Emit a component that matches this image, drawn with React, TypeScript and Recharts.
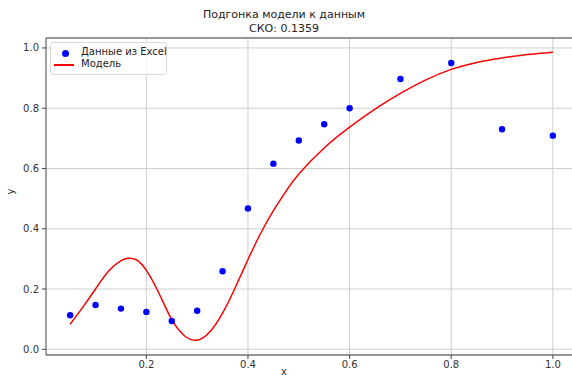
import React from "react";
import {
  ComposedChart,
  Line,
  Scatter,
  XAxis,
  YAxis,
  CartesianGrid,
  ReferenceLine,
} from "recharts";

// data points
const dataX: number[] = [0.05, 0.1, 0.15, 0.2, 0.25, 0.3, 0.35, 0.4, 0.45, 0.5, 0.55, 0.6, 0.7, 0.8, 0.9, 1.0];
const dataY: number[] = [0.113, 0.147, 0.135, 0.124, 0.094, 0.128, 0.259, 0.467, 0.616, 0.693, 0.747, 0.8, 0.897, 0.95, 0.73, 0.709];

// fitted model curve
const modelX: number[] = [
  0.05, 0.075, 0.1, 0.125, 0.15, 0.165, 0.18, 0.2, 0.225, 0.25, 0.275, 0.3, 0.325, 0.35, 0.375,
  0.4, 0.425, 0.45, 0.475, 0.5, 0.55, 0.6, 0.65, 0.7, 0.75, 0.8, 0.85, 0.9, 0.95, 1.0,
];
const modelY: number[] = [
  0.083, 0.14, 0.2, 0.258, 0.294, 0.302, 0.297, 0.262, 0.185, 0.098, 0.045, 0.03, 0.058, 0.12, 0.205,
  0.298, 0.385, 0.46, 0.525, 0.582, 0.668, 0.737, 0.797, 0.849, 0.894, 0.929, 0.952, 0.967, 0.978, 0.986,
];

const xTicks: number[] = [0.2, 0.4, 0.6, 0.8, 1.0];
const yTicks: number[] = [0.0, 0.2, 0.4, 0.6, 0.8, 1.0];

const points = dataX.map((x, i) => ({ x, y: dataY[i] }));
const model = modelX.map((x, i) => ({ x, y: modelY[i] }));

const FONT = "'DejaVu Sans', sans-serif";
const Y_MAX = 1.033;

const App: React.FC = () => {
  return (
    <div
      style={{
        position: "fixed",
        left: 0,
        top: 0,
        width: 572,
        height: 380,
        overflow: "hidden",
        background: "#fff",
        fontFamily: FONT,
      }}
    >
      <div
        style={{
          position: "absolute",
          left: 184,
          width: 200,
          top: 8,
          textAlign: "center",
          fontSize: 11,
          lineHeight: "14px",
          color: "#222",
        }}
      >
        Подгонка модели к данным
        <br />
        СКО: 0.1359
      </div>

      <ComposedChart
        width={600}
        height={380}
        margin={{ top: 38, right: 23, left: 0, bottom: 0 }}
        style={{ position: "absolute", left: 0, top: 0 }}
      >
        <CartesianGrid stroke="#cfcfcf" strokeWidth={1} vertical={false} />
        {xTicks.map((t) => (
          <ReferenceLine key={t} x={t} stroke="#cfcfcf" strokeWidth={1} />
        ))}
        <XAxis
          type="number"
          dataKey="x"
          domain={[0.0025, 1.0475]}
          ticks={xTicks}
          tickFormatter={(v: number) => v.toFixed(1)}
          height={25}
          tickSize={4}
          tickMargin={2}
          stroke="#444"
          tick={{ fill: "#333", fontSize: 10, fontFamily: FONT }}
          allowDataOverflow
        />
        <YAxis
          type="number"
          dataKey="y"
          domain={[-0.019, Y_MAX]}
          ticks={yTicks}
          tickFormatter={(v: number) => v.toFixed(1)}
          width={46}
          tickSize={4}
          tickMargin={3}
          stroke="#444"
          tick={{ fill: "#333", fontSize: 10, fontFamily: FONT }}
          allowDataOverflow
        />
        <ReferenceLine y={Y_MAX} stroke="#444" strokeWidth={1} />
        <Line
          data={model}
          dataKey="y"
          type="natural"
          stroke="#ff0000"
          strokeWidth={1.5}
          dot={false}
          activeDot={false}
          isAnimationActive={false}
        />
        <Scatter
          data={points}
          dataKey="y"
          fill="#0000ff"
          shape={(p: any) => <circle cx={p.cx} cy={p.cy} r={3.2} fill="#0000ff" />}
          isAnimationActive={false}
        />
      </ComposedChart>

      <div
        style={{
          position: "absolute",
          left: 8,
          top: 186,
          transform: "rotate(-90deg)",
          fontSize: 10,
          color: "#333",
        }}
      >
        y
      </div>
      <div style={{ position: "absolute", left: 281, top: 366, fontSize: 10, lineHeight: "12px", color: "#333" }}>x</div>

      <div
        style={{
          position: "absolute",
          left: 50,
          top: 42,
          width: 115,
          height: 31,
          border: "1px solid #d8d8d8",
          borderRadius: 3,
          background: "rgba(255,255,255,0.8)",
          fontSize: 10,
          color: "#222",
        }}
      >
        <div style={{ position: "absolute", left: 11, top: 7, width: 7, height: 7, borderRadius: 4, background: "#0000ff" }} />
        <div style={{ position: "absolute", left: 30, top: 3, whiteSpace: "nowrap" }}>Данные из Excel</div>
        <div style={{ position: "absolute", left: 3, top: 21, width: 20, height: 1.5, background: "#ff0000" }} />
        <div style={{ position: "absolute", left: 30, top: 15, whiteSpace: "nowrap" }}>Модель</div>
      </div>
    </div>
  );
};

export default App;
